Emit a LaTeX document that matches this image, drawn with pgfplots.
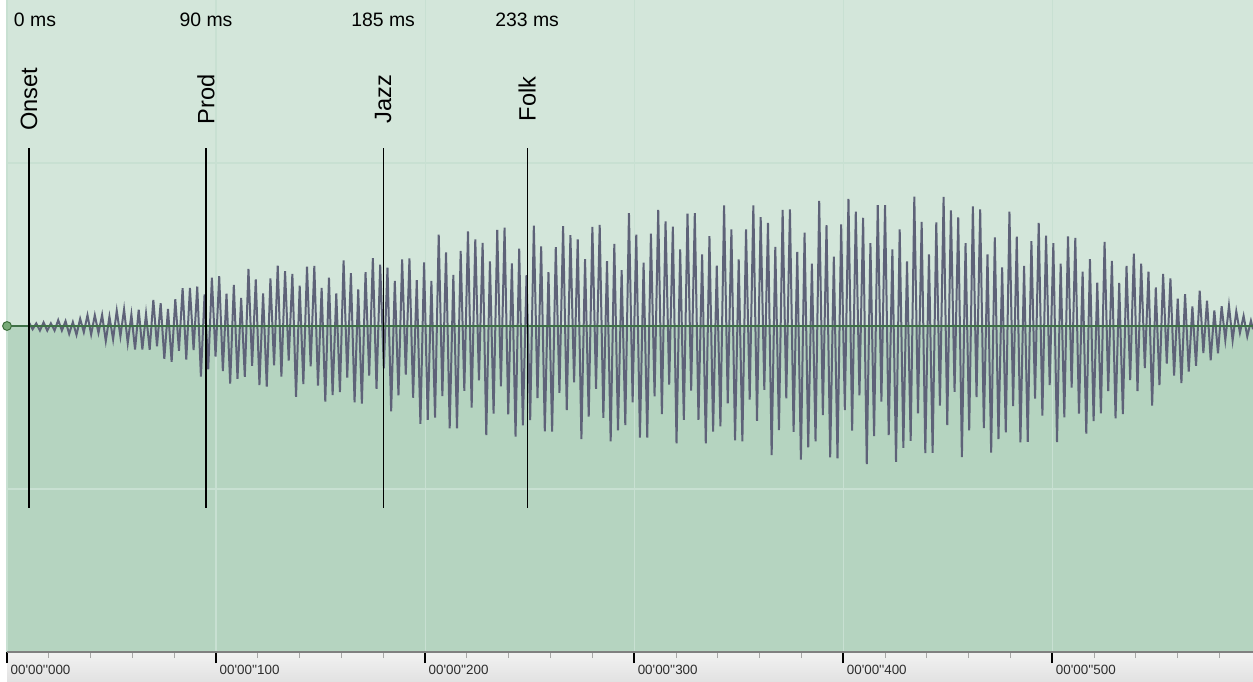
\documentclass[border=0pt]{standalone}
\usepackage{fontspec}
\setmainfont{Liberation Sans}
\newfontfamily\rulerfont{Liberation Sans}
\usepackage{pgfplots}
\pgfplotsset{compat=1.18}
\definecolor{topbg}{RGB}{211,230,218}
\definecolor{botbg}{RGB}{181,212,192}
\definecolor{gridc}{RGB}{200,224,210}
\definecolor{wave}{RGB}{94,98,120}
\definecolor{linec}{RGB}{62,112,70}
\definecolor{circf}{RGB}{120,170,120}
\definecolor{circd}{RGB}{60,110,60}
\definecolor{rulertop}{RGB}{242,242,242}
\definecolor{rulerbot}{RGB}{226,226,226}
\definecolor{rulertxt}{RGB}{45,45,45}
\begin{document}
\begin{tikzpicture}
\begin{axis}[name=ax, set layers, scale only axis,
  width=623pt, height=326pt,
  xmin=0, xmax=596, ymin=-1, ymax=1,
  axis line style={draw=none}, clip=false,
  xtick={0,100,200,300,400,500}, xticklabels={},
  minor xtick={20,40,60,80,120,140,160,180,220,240,260,280,320,340,360,380,420,440,460,480,520,540,560,580},
  xtick pos=left, tick align=outside,
  major tick length=5.5pt, minor tick length=3pt,
  major x tick style={black, line width=1pt},
  minor x tick style={gray!70, line width=0.5pt},
  ytick={-0.5,0.5}, yticklabels={}, ytick style={draw=none},
  yticklabel style={inner sep=0pt},
  xmajorgrids, ymajorgrids,
  major grid style={gridc, line width=0.6pt},
]
\begin{pgfonlayer}{axis background}
\fill[topbg] (rel axis cs:0,0.5) rectangle (rel axis cs:1,1);
\fill[botbg] (rel axis cs:0,0) rectangle (rel axis cs:1,0.5);
\shade[top color=rulertop, bottom color=rulerbot] (rel axis cs:0,0) rectangle ([yshift=-14.5pt]rel axis cs:1,0);
\end{pgfonlayer}

\addplot[wave, line width=1pt, mark=none] table {
t a
10.5 0.011
12.25 -0.010
14 0.008
15.75 -0.014
17.5 0.011
19.25 -0.014
21 0.008
22.75 -0.014
24.5 0.018
26.25 -0.014
28 0.015
29.75 -0.024
31.5 0.012
33.25 -0.027
35 0.022
36.75 -0.019
38.5 0.033
40.25 -0.026
42 0.033
43.75 -0.021
45.5 0.034
47.25 -0.046
49 0.029
50.75 -0.041
52.5 0.047
54.25 -0.032
56 0.051
57.75 -0.052
59.5 0.035
61.25 -0.072
63 0.050
64.75 -0.072
66.5 0.037
68.25 -0.073
70 0.080
71.75 -0.062
73.5 0.070
75.25 -0.101
77 0.052
78.75 -0.110
80.5 0.082
82.25 -0.076
84 0.116
85.75 -0.103
87.5 0.117
89.25 -0.074
91 0.121
92.75 -0.155
94.5 0.097
96.25 -0.133
98 0.148
99.75 -0.094
101.5 0.153
103.25 -0.138
105 0.099
106.75 -0.177
108.5 0.126
110.25 -0.162
112 0.086
113.75 -0.156
115.5 0.175
117.25 -0.122
119 0.143
120.75 -0.181
122.5 0.100
124.25 -0.186
126 0.146
127.75 -0.121
129.5 0.185
131.25 -0.155
133 0.168
134.75 -0.106
136.5 0.160
138.25 -0.217
140 0.124
141.75 -0.178
143.5 0.182
145.25 -0.124
147 0.184
148.75 -0.183
150.5 0.117
152.25 -0.232
154 0.148
155.75 -0.212
157.5 0.100
159.25 -0.203
161 0.201
162.75 -0.158
164.5 0.162
166.25 -0.234
168 0.112
169.75 -0.238
171.5 0.165
173.25 -0.152
175 0.208
176.75 -0.193
178.5 0.188
180.25 -0.130
182 0.179
183.75 -0.262
185.5 0.138
187.25 -0.213
189 0.204
190.75 -0.149
192.5 0.207
194.25 -0.220
196 0.141
197.75 -0.300
199.5 0.195
201.25 -0.288
203 0.138
204.75 -0.281
206.5 0.280
208.25 -0.215
210 0.226
211.75 -0.314
213.5 0.157
215.25 -0.314
217 0.230
218.75 -0.199
220.5 0.290
222.25 -0.250
224 0.266
225.75 -0.167
227.5 0.255
229.25 -0.335
231 0.198
232.75 -0.269
234.5 0.295
236.25 -0.185
238 0.302
239.75 -0.271
241.5 0.192
243.25 -0.339
245 0.237
246.75 -0.305
248.5 0.156
250.25 -0.289
252 0.308
253.75 -0.221
255.5 0.244
257.25 -0.323
259 0.165
260.75 -0.324
262.5 0.242
264.25 -0.205
266 0.306
267.75 -0.258
269.5 0.279
271.25 -0.173
273 0.266
274.75 -0.347
276.5 0.205
278.25 -0.278
280 0.304
281.75 -0.193
283.5 0.310
285.25 -0.282
287 0.199
288.75 -0.354
290.5 0.252
292.25 -0.320
294 0.171
295.75 -0.304
297.5 0.346
299.25 -0.234
301 0.280
302.75 -0.342
304.5 0.194
306.25 -0.342
308 0.283
309.75 -0.216
311.5 0.356
313.25 -0.270
315 0.321
316.75 -0.180
318.5 0.305
320.25 -0.360
322 0.235
323.75 -0.288
325.5 0.345
327.25 -0.198
329 0.346
330.75 -0.288
332.5 0.220
334.25 -0.360
336 0.276
337.75 -0.324
339.5 0.185
341.25 -0.308
343 0.370
344.75 -0.237
346.5 0.296
348.25 -0.351
350 0.204
351.75 -0.354
353.5 0.296
355.25 -0.226
357 0.370
358.75 -0.291
360.5 0.334
362.25 -0.196
364 0.316
365.75 -0.396
367.5 0.243
369.25 -0.319
371 0.356
372.75 -0.222
374.5 0.358
376.25 -0.325
378 0.227
379.75 -0.410
381.5 0.286
383.25 -0.372
385 0.191
386.75 -0.354
388.5 0.384
390.25 -0.273
392 0.309
393.75 -0.403
395.5 0.213
397.25 -0.406
399 0.312
400.75 -0.258
402.5 0.390
404.25 -0.321
406 0.351
407.75 -0.213
409.5 0.332
411.25 -0.424
413 0.254
414.75 -0.338
416.5 0.371
418.25 -0.232
420 0.371
421.75 -0.335
423.5 0.235
425.25 -0.417
427 0.296
428.75 -0.374
430.5 0.198
432.25 -0.352
434 0.397
435.75 -0.268
437.5 0.319
439.25 -0.390
441 0.220
442.75 -0.389
444.5 0.318
446.25 -0.244
448 0.396
449.75 -0.304
451.5 0.355
453.25 -0.202
455 0.333
456.75 -0.402
458.5 0.254
460.25 -0.320
462 0.367
463.75 -0.218
465.5 0.358
467.25 -0.313
469 0.220
470.75 -0.388
472.5 0.272
474.25 -0.347
476 0.180
477.75 -0.326
479.5 0.351
481.25 -0.246
483 0.274
484.75 -0.357
486.5 0.184
488.25 -0.355
490 0.260
491.75 -0.223
493.5 0.316
495.25 -0.275
497 0.277
498.75 -0.181
500.5 0.254
502.25 -0.356
504 0.191
505.75 -0.280
507.5 0.275
509.25 -0.189
511 0.270
512.75 -0.269
514.5 0.167
516.25 -0.330
518 0.205
519.75 -0.292
521.5 0.133
523.25 -0.268
525 0.258
526.75 -0.200
528.5 0.200
530.25 -0.283
532 0.132
533.75 -0.270
535.5 0.184
537.25 -0.166
539 0.222
540.75 -0.200
542.5 0.191
544.25 -0.129
546 0.167
547.75 -0.244
549.5 0.118
551.25 -0.181
553 0.160
554.75 -0.115
556.5 0.146
558.25 -0.152
560 0.084
561.75 -0.175
563.5 0.098
565.25 -0.140
567 0.060
568.75 -0.122
570.5 0.108
572.25 -0.083
574 0.078
575.75 -0.105
577.5 0.048
579.25 -0.084
581 0.061
582.75 -0.043
584.5 0.062
586.25 -0.044
588 0.045
589.75 -0.021
591.5 0.031
593.25 -0.032
595 0.016
596 -0.010
};

% centre line
\addplot[linec, line width=0.8pt, mark=none] coordinates {(0,0) (596,0)};
\addplot[only marks, mark=*, mark size=2.2pt,
  mark options={fill=circf, draw=circd, line width=0.5pt}] coordinates {(0,0)};

% marker lines
\addplot[black, line width=0.55pt, mark=none] coordinates {(10.5,0.546) (10.5,-0.558)};
\addplot[black, line width=0.55pt, mark=none] coordinates {(95.2,0.546) (95.2,-0.558)};
\addplot[black, line width=0.55pt, mark=none] coordinates {(179.9,0.546) (179.9,-0.558)};
\addplot[black, line width=0.55pt, mark=none] coordinates {(248.8,0.546) (248.8,-0.558)};

\node[font=\fontsize{9.7}{11}\selectfont] at (axis cs:13.4,0.939) {0 ms};
\node[font=\fontsize{9.7}{11}\selectfont] at (axis cs:95.2,0.939) {90 ms};
\node[font=\fontsize{9.7}{11}\selectfont] at (axis cs:179.9,0.939) {185 ms};
\node[font=\fontsize{9.7}{11}\selectfont] at (axis cs:248.8,0.939) {233 ms};

\node[rotate=90, font=\fontsize{11.8}{14}\selectfont] at (axis cs:10.5,0.696) {Onset};
\node[rotate=90, font=\fontsize{11.8}{14}\selectfont] at (axis cs:95.2,0.696) {Prod};
\node[rotate=90, font=\fontsize{11.8}{14}\selectfont] at (axis cs:179.9,0.696) {Jazz};
\node[rotate=90, font=\fontsize{11.8}{14}\selectfont] at (axis cs:248.8,0.696) {Folk};

% ruler
\draw[gray, line width=0.9pt] (rel axis cs:0,0) -- (rel axis cs:1,0);
\node[anchor=west, inner sep=0pt, text=rulertxt, font=\rulerfont\fontsize{6.7}{8}\selectfont] at ([xshift=1.6pt,yshift=-9pt]axis cs:0,-1) {00'00''000};
\node[anchor=west, inner sep=0pt, text=rulertxt, font=\rulerfont\fontsize{6.7}{8}\selectfont] at ([xshift=1.6pt,yshift=-9pt]axis cs:100,-1) {00'00''100};
\node[anchor=west, inner sep=0pt, text=rulertxt, font=\rulerfont\fontsize{6.7}{8}\selectfont] at ([xshift=1.6pt,yshift=-9pt]axis cs:200,-1) {00'00''200};
\node[anchor=west, inner sep=0pt, text=rulertxt, font=\rulerfont\fontsize{6.7}{8}\selectfont] at ([xshift=1.6pt,yshift=-9pt]axis cs:300,-1) {00'00''300};
\node[anchor=west, inner sep=0pt, text=rulertxt, font=\rulerfont\fontsize{6.7}{8}\selectfont] at ([xshift=1.6pt,yshift=-9pt]axis cs:400,-1) {00'00''400};
\node[anchor=west, inner sep=0pt, text=rulertxt, font=\rulerfont\fontsize{6.7}{8}\selectfont] at ([xshift=1.6pt,yshift=-9pt]axis cs:500,-1) {00'00''500};
\end{axis}
\pgfresetboundingbox
\path ([xshift=-3.5pt,yshift=-14.5pt]ax.south west) rectangle (ax.north east);
\end{tikzpicture}
\end{document}
